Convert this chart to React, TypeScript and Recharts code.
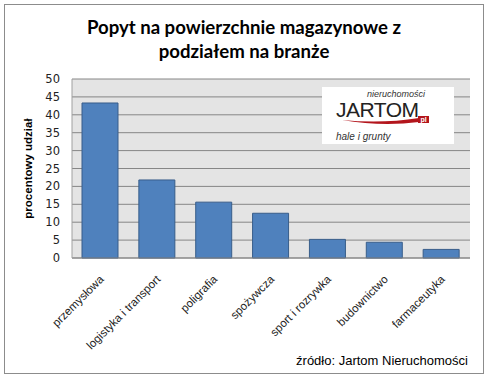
import { BarChart, Bar, XAxis, YAxis, CartesianGrid, Label } from "recharts";

const categories = [
  "przemysłowa",
  "logistyka i transport",
  "poligrafia",
  "spożywcza",
  "sport i rozrywka",
  "budownictwo",
  "farmaceutyka",
];
const shares = [43.3, 21.8, 15.6, 12.5, 5.2, 4.4, 2.4];
const yTicks = [0, 5, 10, 15, 20, 25, 30, 35, 40, 45, 50];

const data = categories.map((name, i) => ({ name, value: shares[i] }));

const XTick = (props: any) => {
  const { x, y, payload } = props;
  const ax = x + 4;
  const ay = y + 14;
  return (
    <text
      x={ax}
      y={ay}
      transform={`rotate(-45, ${ax}, ${ay})`}
      textAnchor="end"
      fontFamily="Liberation Sans, Arial, sans-serif"
      fontSize={11.5}
      fill="#222"
    >
      {payload.value}
    </text>
  );
};

function Logo() {
  return (
    <svg
      width={132}
      height={57}
      style={{ position: "absolute", left: 322, top: 87 }}
    >
      <rect x={0} y={0} width={132} height={57} fill="#fff" />
      <text x={103} y={9.5} textAnchor="end" fontFamily="Liberation Sans, Arial" fontStyle="italic" fontSize={9} fill="#333">
        nieruchomości
      </text>
      <text x={14} y={30} fontFamily="Liberation Sans, Arial" fontSize={21} fill="#222" letterSpacing={-0.5}>
        JARTOM
      </text>
      <path d="M 20 33 Q 60 37 97 31 L 97 35 Q 60 40 20 33 Z" fill="#b3151c" />
      <rect x={96} y={29} width={11} height={7} fill="#b3151c" />
      <text x={101.5} y={35} textAnchor="middle" fontFamily="Liberation Sans, Arial" fontSize={7} fontWeight="bold" fill="#fff">
        pl
      </text>
      <text x={14} y={53} fontFamily="Liberation Sans, Arial" fontStyle="italic" fontSize={10} fill="#333">
        hale i grunty
      </text>
    </svg>
  );
}

export default function App() {
  return (
    <div style={{ position: "absolute", left: 0, top: 0, width: 489, height: 378, background: "#fff" }}>
      <svg width={489} height={378} style={{ position: "absolute", left: 0, top: 0 }}>
        <rect x={4.5} y={4.5} width={479} height={369} fill="#fff" stroke="#8c8c8c" strokeWidth={1} />
        <rect x={72} y={79} width={398} height={179} fill="#e4e4e4" />
        <text x={244} y={34} textAnchor="middle" fontFamily="Lato, sans-serif" fontWeight="bold" fontSize={18.6} fill="#000">
          Popyt na powierzchnie magazynowe z
        </text>
        <text x={244} y={58} textAnchor="middle" fontFamily="Lato, sans-serif" fontWeight="bold" fontSize={18.6} fill="#000">
          podziałem na branże
        </text>
      </svg>
      <div style={{ position: "absolute", left: 0, top: 0 }}>
        <BarChart
          width={489}
          height={378}
          data={data}
          margin={{ top: 79, right: 19, left: 12, bottom: 10 }}
          barSize={36}
        >
          <CartesianGrid vertical={false} stroke="#868686" />
          <XAxis
            dataKey="name"
            interval={0}
            height={110}
            tick={<XTick />}
            tickLine={false}
            axisLine={{ stroke: "#868686" }}
          />
          <YAxis
            width={60}
            domain={[0, 50]}
            ticks={yTicks}
            interval={0}
            tickLine={false}
            tickMargin={12}
            tickSize={0}
            axisLine={{ stroke: "#a0a0a0" }}
            tick={{ fontFamily: "DejaVu Sans, Verdana, sans-serif", fontSize: 11.5, fill: "#222" }}
          >
            <Label
              value="procentowy udział"
              angle={-90}
              position="insideLeft"
              offset={16}
              style={{ textAnchor: "middle", fontFamily: "Liberation Sans, Arial", fontWeight: "bold", fontSize: 11.5, fill: "#000" }}
            />
          </YAxis>
          <Bar dataKey="value" fill="#4f81bd" stroke="#385d8a" strokeWidth={1} isAnimationActive={false} />
        </BarChart>
      </div>
      <Logo />
      <svg width={489} height={378} style={{ position: "absolute", left: 0, top: 0, pointerEvents: "none" }}>
        <text x={468} y={365} textAnchor="end" fontFamily="Liberation Sans, Arial" fontSize={13} fill="#000">
          źródło: Jartom Nieruchomości
        </text>
      </svg>
    </div>
  );
}
